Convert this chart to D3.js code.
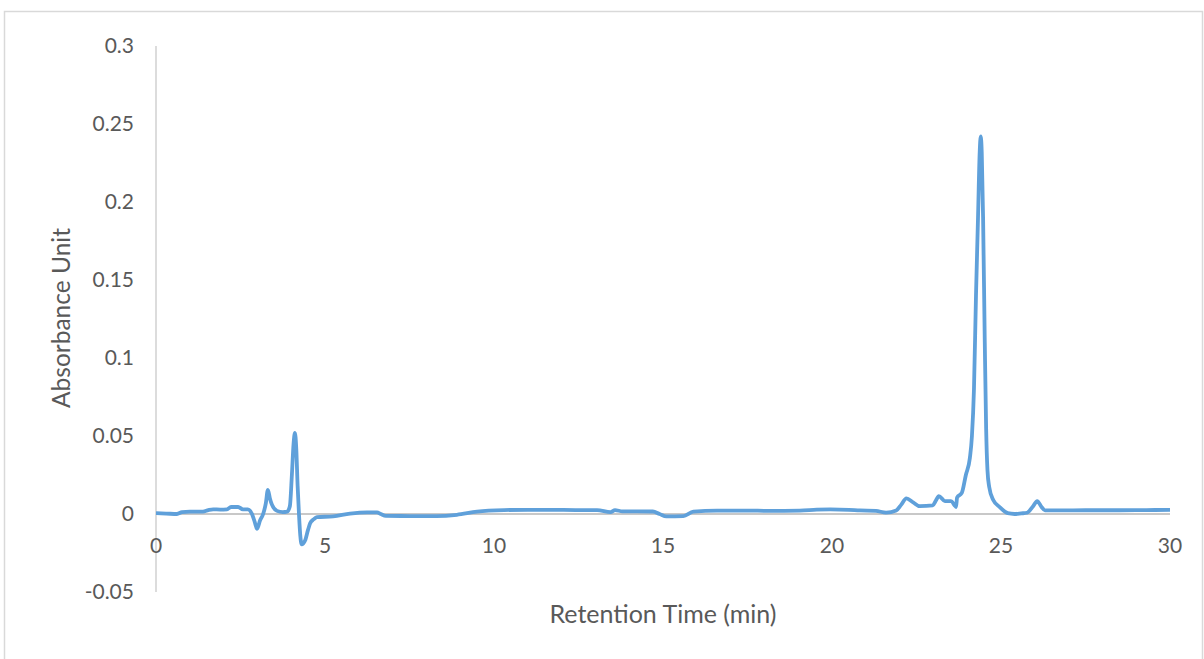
<!DOCTYPE html>
<html lang="en">
  <head>
    <meta charset="utf-8">
    <title>Chromatogram</title>
    <script type="text/javascript" src="https://cdn.jsdelivr.net/npm/d3@7"></script>
    <style>
      body { margin: 0; background: #fff; }
      text { font-family: Lato, "Open Sans", sans-serif; fill: #595959; }
    </style>
  </head>
  <body>
    <script type="text/javascript">
      var width = 1204;
      var height = 659;

      // retention time (min) and absorbance
      var times = [0, 0.3, 0.62, 0.77, 1.0, 1.39, 1.55, 1.69, 1.9, 2.1, 2.22, 2.43, 2.57, 2.72,
        2.84, 2.92, 2.99, 3.08, 3.17, 3.25, 3.31, 3.37, 3.43, 3.58, 3.75, 3.88, 3.96, 4.02,
        4.07, 4.11, 4.15, 4.19, 4.23, 4.27, 4.31, 4.41, 4.5, 4.56, 4.66, 4.76, 5.24, 5.74,
        6.24, 6.54, 6.65, 6.8, 7.5, 8.3, 8.9, 9.5, 10.3, 11.0, 11.6, 12.5, 13.05, 13.45,
        13.58, 13.8, 14.7, 14.9, 15.1, 15.6, 15.9, 16.6, 17.5, 18.1, 19.05, 19.55, 19.95,
        20.5, 20.83, 21.3, 21.6, 21.9, 22.05, 22.2, 22.4, 22.6, 22.98, 23.07, 23.16, 23.34,
        23.52, 23.63, 23.67, 23.7, 23.84, 23.96, 24.08, 24.14, 24.2, 24.26, 24.32, 24.37,
        24.4, 24.43, 24.47, 24.52, 24.56, 24.6, 24.65, 24.77, 24.97, 25.2, 25.4, 25.6,
        25.77, 25.95, 26.07, 26.2, 26.3, 26.75, 27.5, 28.5, 29.3, 30.0];
      var absorbance = [0.0005, 0.0003, 0.0, 0.0012, 0.0015, 0.0015, 0.0025, 0.003, 0.0028,
        0.003, 0.0045, 0.0045, 0.003, 0.003, 0.0, -0.005, -0.0095, -0.004, 0.0, 0.007,
        0.0155, 0.010, 0.006, 0.002, 0.0012, 0.0015, 0.005, 0.025, 0.045, 0.052, 0.042,
        0.018, 0.0, -0.014, -0.0195, -0.017, -0.010, -0.006, -0.0035, -0.002, -0.0015,
        0.0002, 0.001, 0.001, 0.0, -0.0012, -0.0013, -0.0013, -0.0005, 0.0015, 0.0025,
        0.0027, 0.0027, 0.0025, 0.0025, 0.0012, 0.0025, 0.0017, 0.0016, 0.0, -0.0015,
        -0.0013, 0.0015, 0.0022, 0.0022, 0.002, 0.0022, 0.0028, 0.003, 0.0027, 0.0023,
        0.002, 0.0009, 0.0023, 0.006, 0.010, 0.0075, 0.005, 0.0055, 0.0085, 0.0115,
        0.0083, 0.0083, 0.0055, 0.0045, 0.0105, 0.0135, 0.025, 0.036, 0.05, 0.08, 0.14,
        0.19, 0.232, 0.242, 0.232, 0.19, 0.11, 0.055, 0.028, 0.0175, 0.009, 0.0043,
        0.0005, 0.0, 0.0004, 0.0008, 0.005, 0.0083, 0.0045, 0.0023, 0.0023, 0.0024,
        0.0024, 0.0025, 0.0027];

      var xTicks = [0, 5, 10, 15, 20, 25, 30];
      var yTicks = [-0.05, 0, 0.05, 0.1, 0.15, 0.2, 0.25, 0.3];

      var data = times.map(function(t, i) { return [t, absorbance[i]]; });

      var xScale = d3.scaleLinear().domain([0, 30]).range([156, 1170]);
      var yScale = d3.scaleLinear().domain([-0.05, 0.3]).range([592, 46]);

      var svg = d3.select("body")
        .append("svg")
        .attr("width", width)
        .attr("height", height);

      // chart border
      svg.append("rect")
        .attr("x", 4.5).attr("y", 11.5)
        .attr("width", 1198).attr("height", 660)
        .attr("fill", "none")
        .attr("stroke", "#d9d9d9")
        .attr("stroke-width", 1.5);

      // y axis line
      svg.append("line")
        .attr("x1", xScale(0)).attr("x2", xScale(0))
        .attr("y1", yScale(0.3)).attr("y2", yScale(-0.05))
        .attr("stroke", "#d0d0d0")
        .attr("stroke-width", 1.5);

      // x axis line at zero
      svg.append("line")
        .attr("x1", xScale(0)).attr("x2", xScale(30))
        .attr("y1", yScale(0)).attr("y2", yScale(0))
        .attr("stroke", "#c8c8c8")
        .attr("stroke-width", 2);

      svg.selectAll(".ytick")
        .data(yTicks)
        .enter()
        .append("text")
        .attr("class", "ytick")
        .attr("x", 134)
        .attr("y", function(d) { return yScale(d) + 7; })
        .attr("text-anchor", "end")
        .attr("font-size", "21px")
        .text(function(d) { return String(+d.toFixed(2)); });

      svg.selectAll(".xtick")
        .data(xTicks)
        .enter()
        .append("text")
        .attr("class", "xtick")
        .attr("x", function(d) { return xScale(d); })
        .attr("y", 553)
        .attr("text-anchor", "middle")
        .attr("font-size", "21px")
        .text(function(d) { return d; });

      var line = d3.line()
        .x(function(d) { return xScale(d[0]); })
        .y(function(d) { return yScale(d[1]); })
        .curve(d3.curveMonotoneX);

      svg.append("path")
        .datum(data)
        .attr("d", line)
        .attr("fill", "none")
        .attr("stroke", "#5fa0da")
        .attr("stroke-width", 3.8)
        .attr("stroke-linejoin", "round");

      svg.append("text")
        .attr("x", 663)
        .attr("y", 623)
        .attr("text-anchor", "middle")
        .attr("font-size", "25px")
        .text("Retention Time (min)");

      svg.append("text")
        .attr("transform", "translate(70,318) rotate(-90)")
        .attr("text-anchor", "middle")
        .attr("font-size", "24.5px")
        .text("Absorbance Unit");
    </script>
  </body>
</html>
